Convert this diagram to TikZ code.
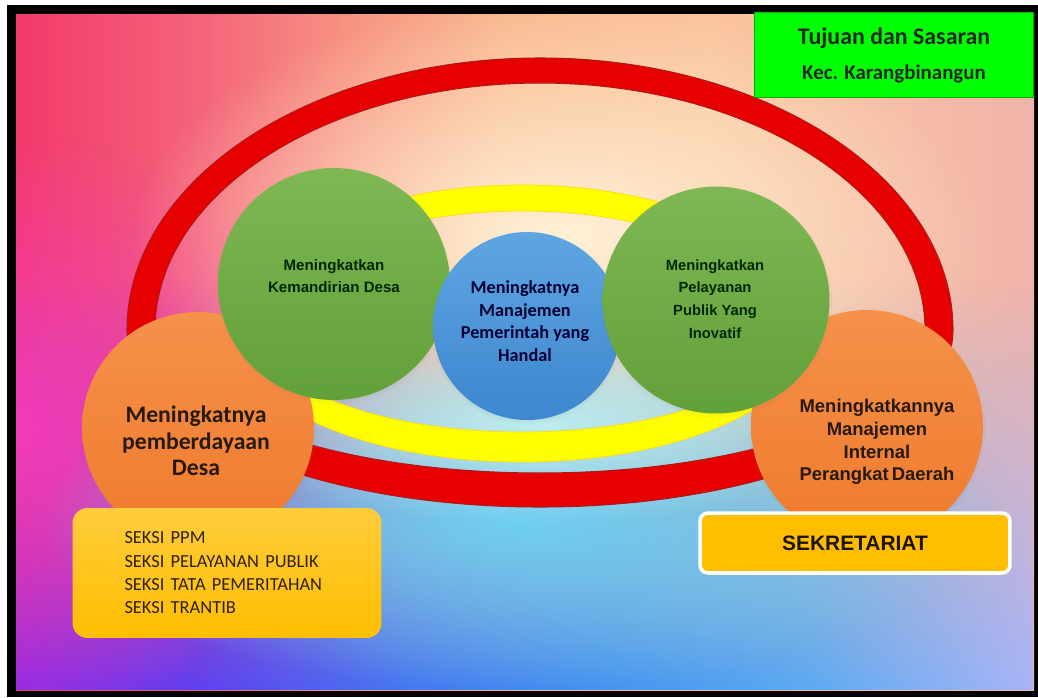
\documentclass[tikz,border=0pt]{standalone}
\usepackage{fontspec}
\setmainfont{Carlito}
\newfontfamily\arialfont{Liberation Sans}
\usepackage{xcolor}
\usetikzlibrary{fadings,shadings,shadows}

\tikzfading[name=glow, inner color=transparent!0, outer color=transparent!100]
\tikzfading[name=fadeup, top color=transparent!100, bottom color=transparent!0]

\definecolor{top0}{HTML}{F23A6A}
\definecolor{top1}{HTML}{F4647A}
\definecolor{top2}{HTML}{F79482}
\definecolor{top3}{HTML}{F9B88E}
\definecolor{top4}{HTML}{FAC49C}
\definecolor{top5}{HTML}{F6BCA6}
\definecolor{top6}{HTML}{F0B4AA}
\definecolor{bot0}{HTML}{8A2AE8}
\definecolor{bot1}{HTML}{6040F0}
\definecolor{bot2}{HTML}{4478F2}
\definecolor{bot3}{HTML}{4494F2}
\definecolor{bot4}{HTML}{5CAAF2}
\definecolor{bot5}{HTML}{A8B4F8}
\pgfdeclarehorizontalshading{topband}{100bp}{color(0bp)=(top0); color(25bp)=(top0); color(34bp)=(top1);
    color(41.5bp)=(top2); color(49bp)=(top3); color(59bp)=(top4); color(68.5bp)=(top5); color(75bp)=(top6); color(100bp)=(top6)}
\pgfdeclarehorizontalshading{bottomband}{100bp}{color(0bp)=(bot0); color(25bp)=(bot0); color(34bp)=(bot1);
    color(44bp)=(bot2); color(54bp)=(bot3); color(64bp)=(bot4); color(75bp)=(bot5); color(100bp)=(bot5)}

\definecolor{ringred}{HTML}{E60000}
\definecolor{ringredline}{HTML}{B01818}
\definecolor{ringyellow}{HTML}{FFFF00}
\definecolor{greentop}{HTML}{7EB852}
\definecolor{greenbot}{HTML}{62A03A}
\definecolor{bluetop}{HTML}{5EA6E2}
\definecolor{bluebot}{HTML}{3E86CE}
\definecolor{orangetop}{HTML}{F6914A}
\definecolor{orangebot}{HTML}{EE7A2C}
\definecolor{boxtop}{HTML}{FFCC3C}
\definecolor{boxbot}{HTML}{FFBE00}
\definecolor{titlegreen}{HTML}{00FF00}

\begin{document}
\begin{tikzpicture}[x=0.02cm, y=-0.02cm,
    goal/.style={circle, inner sep=0pt, minimum size=4.64cm,
        circular drop shadow={shadow xshift=0pt, shadow yshift=-1pt, shadow scale=1.03, opacity=0.3}},
    greengoal/.style={goal, top color=greentop, bottom color=greenbot},
    orangegoal/.style={goal, top color=orangetop, bottom color=orangebot},
    greentext/.style={align=center, text=black!85!green, font=\arialfont\bfseries\fontsize{8.6}{12.6}\selectfont},
    orangetext/.style={align=center, text=black!80!brown}]

    \useasboundingbox (0,0) rectangle (1038,697);
    \fill[white] (0,0) rectangle (1038,697);
    \fill[black] (7,5) rectangle (1038,697);

    % background
    \begin{scope}
        \clip (16,14) rectangle (1034,690);
        \shade[shading=topband] (16,14) rectangle (1034,690);
        \shade[shading=bottomband, path fading=fadeup] (16,280) rectangle (1034,690);
        \fill[color={rgb,255:red,242;green,60;blue,184}, path fading=glow] (16,430) ellipse [x radius=300, y radius=300];
        \fill[color={rgb,255:red,255;green,242;blue,216}, path fading=glow] (560,240) ellipse [x radius=430, y radius=240];
        \fill[color={rgb,255:red,110;green,208;blue,242}, path fading=glow] (520,520) ellipse [x radius=480, y radius=170];
        \fill[color={rgb,255:red,189;green,237;blue,238}, path fading=glow] (540,425) ellipse [x radius=340, y radius=100];
    \end{scope}

    % rings
    \fill[ringred, draw=ringredline, line width=0.6pt, even odd rule]
        (127,330) arc[start angle=180, end angle=360, x radius=413, y radius=272]
        arc[start angle=0, end angle=180, x radius=413, y radius=177] -- cycle
        (155,330) arc[start angle=180, end angle=360, x radius=385, y radius=247]
        arc[start angle=0, end angle=180, x radius=385, y radius=143] -- cycle;
    \fill[ringyellow, draw=yellow!80!orange, line width=0.4pt, even odd rule]
        (232,330) arc[start angle=180, end angle=360, x radius=290, y radius=145]
        arc[start angle=0, end angle=180, x radius=290, y radius=132] -- cycle
        (260,330) arc[start angle=180, end angle=360, x radius=262, y radius=119]
        arc[start angle=0, end angle=180, x radius=262, y radius=102] -- cycle;

    % goals
    \node[orangegoal] (desa) at (198,428) {};
    \node[orangegoal] (internal) at (867,426) {};
    \node[greengoal] (kemandirian) at (334,284) {};
    \node[goal, minimum size=3.76cm, top color=bluetop, bottom color=bluebot] (handal) at (527,326) {};
    \node[greengoal, minimum size=4.54cm] (inovatif) at (716,300) {};

    \node[greentext] (kemandirian-text) at (334,276) {Meningkatkan\\Kemandirian Desa};
    \node[greentext, font=\arialfont\bfseries\fontsize{8.4}{13}\selectfont] (inovatif-text) at (715,299) {Meningkatkan\\Pelayanan\\Publik Yang\\Inovatif};
    \node[align=center, text=black!80!blue, font=\bfseries\fontsize{10.4}{12.8}\selectfont] (handal-text) at (525,321) {Meningkatnya\\Manajemen\\Pemerintah yang\\Handal};
    \node[orangetext, font=\bfseries\fontsize{13.5}{15}\selectfont] (desa-text) at (196,441) {Meningkatnya\\pemberdayaan\\Desa};
    \node[orangetext, font=\arialfont\bfseries\fontsize{10.5}{13}\selectfont] (internal-text) at (877,442) {Meningkatkannya\\Manajemen\\Internal\\Perangkat\,Daerah};

    % units
    \node[rounded corners=0.3cm, top color=boxtop, bottom color=boxbot, minimum width=6.18cm, minimum height=2.6cm,
        text width=4.1cm, align=left, text=black!75!brown, font=\fontsize{10.5}{13.3}\selectfont] (seksi) at (227,573)
        {SEKSI PPM\\SEKSI PELAYANAN PUBLIK\\SEKSI TATA PEMERITAHAN\\SEKSI TRANTIB};
    \node[rounded corners=0.16cm, fill=boxbot, draw=white, line width=2pt, minimum width=6.2cm, minimum height=1.2cm,
        text=black!85!brown, font=\arialfont\bfseries\fontsize{11.9}{14}\selectfont] (sekretariat) at (855,543) {SEKRETARIAT};

    % title
    \node[fill=titlegreen, draw=green!70!black, line width=0.5pt, minimum width=5.58cm, minimum height=1.7cm,
        align=center, text=black!85, font=\bfseries\fontsize{11.9}{19.8}\selectfont] (title) at (894,55)
        {{\fontsize{13.6}{19.8}\selectfont Tujuan dan Sasaran}\\Kec. Karangbinangun};
\end{tikzpicture}
\end{document}
